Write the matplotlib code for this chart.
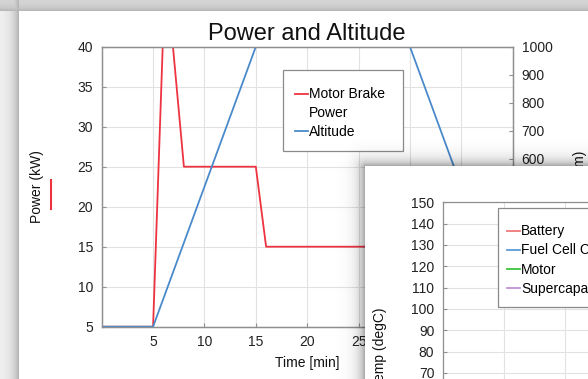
import numpy as np
import matplotlib
matplotlib.use("Agg")
import matplotlib.pyplot as plt
from matplotlib.lines import Line2D
from matplotlib.patches import Rectangle

plt.rcParams['font.family'] = ['Liberation Sans', 'DejaVu Sans']

# ---- data (chart 1: Power and Altitude) ----
power_time = [0, 5, 5.95, 6.9, 8, 15, 16, 40]
power_kw = [5, 5, 40.5, 40.5, 25, 25, 15, 15]
alt_time = [0, 5, 15, 30, 40]
altitude_m = [0, 0, 1000, 1000, 0]
x_ticks = [5, 10, 15, 20, 25, 30, 35]
power_ticks = [5, 10, 15, 20, 25, 30, 35, 40]
alt_ticks = [100, 200, 300, 400, 500, 600, 700, 800, 900, 1000]

# ---- chart 2 (Temperatures) ----
temp_series = ['Battery', 'Fuel Cell Coolant', 'Motor', 'Supercapacitor']
temp_colors = ['#f07878', '#5b9bd5', '#3cc43c', '#c58fd8']
temp_ticks = list(range(0, 151, 10))

W, H = 588, 379
fig = plt.figure(figsize=(W / 100, H / 100), dpi=100)

def fx(px):
    return px / W

def fy(py):
    return 1 - py / H

# ---- background: window 1 frame ----
yy, xx = np.mgrid[0:H, 0:W]
bg = np.ones((H, W))
left_mask = xx < 19
top_mask = yy < 11
dl = 19 - xx
dt = 11 - yy
left_val = 0.96 - 0.27 * np.exp(-(dl - 0.5) / 7.0)
top_val = 0.84 - 0.14 * np.exp(-(dt - 0.5) / 3.5)
bg[left_mask] = left_val[left_mask]
bg[top_mask & ~left_mask] = top_val[top_mask & ~left_mask]
both = top_mask & left_mask
bg[both] = np.minimum(left_val[both], top_val[both])
ax_bg = fig.add_axes([0, 0, 1, 1], zorder=-5)
ax_bg.imshow(np.dstack([bg, bg, bg]), extent=(0, W, H, 0), aspect='auto',
             interpolation='nearest')
ax_bg.set_xlim(0, W)
ax_bg.set_ylim(H, 0)
ax_bg.axis('off')

spine_c = '#8f8f8f'
grid_c = '#e2e2e2'
box_c = '#8a8a8a'

def legend_box(ax, x0, y0, x1, y1):
    r = Rectangle((fx(x0), fy(y1)), fx(x1) - fx(x0), fy(y0) - fy(y1),
                  transform=fig.transFigure, facecolor='white', edgecolor=box_c,
                  lw=0.9, clip_on=False, zorder=4.5)
    ax.add_artist(r)

# ---- chart 1 ----
ax1 = fig.add_axes([fx(101.7), fy(326.7), fx(512.7) - fx(101.7), fy(46.7) - fy(326.7)],
                   zorder=1)
red_line, = ax1.plot(power_time, power_kw, color='#ee3340', lw=1.3)
ax1.set_xlim(0, 40)
ax1.set_ylim(5, 40)
ax1.set_xticks(x_ticks)
ax1.set_yticks(power_ticks)
ax1.grid(True, color=grid_c, lw=0.8)
ax1.set_axisbelow(True)
for s in ax1.spines.values():
    s.set_color(spine_c)
    s.set_linewidth(0.9)
ax1.tick_params(direction='in', length=3, color=spine_c, labelsize=10,
                labelcolor='#222222', pad=6)
ax1.set_title('Power and Altitude', fontsize=17, pad=5, color='#111111')
ax1.set_xlabel('Time [min]', fontsize=10, color='#111111')
ax1.xaxis.set_label_coords(0.5, (326.7 - 363) / 280)
ax1.xaxis.label.set_va('center')
ax1.set_ylabel('Power (kW)', fontsize=10, color='#111111')
ax1.yaxis.set_label_coords((37 - 101.7) / 411, 0.5)
ax1.yaxis.label.set_va('center')

ax1r = ax1.twinx()
blue_line, = ax1r.plot(alt_time, altitude_m, color='#4a8acb', lw=1.3)
ax1r.set_ylim(0, 1000)
ax1r.set_yticks(alt_ticks)
for s in ax1r.spines.values():
    s.set_color(spine_c)
    s.set_linewidth(0.9)
ax1r.tick_params(direction='in', length=3, color=spine_c, labelsize=10,
                 labelcolor='#222222', pad=6.5)
ax1r.set_ylabel('Altitude (m)', fontsize=10, color='#111111')
ax1r.yaxis.set_label_coords((580 - 101.7) / 411, 0.5)
ax1r.yaxis.label.set_va('center')

legend_box(ax1r, 283.3, 70, 402.7, 150.7)
blank = Line2D([], [], color='none')
leg1 = ax1r.legend([red_line, blank, blue_line], ['Motor Brake', 'Power', 'Altitude'],
                   loc='upper left', bbox_to_anchor=(fx(295), fy(87.5)),
                   bbox_transform=fig.transFigure, borderaxespad=0, borderpad=0,
                   fontsize=10, handlelength=0.93, handletextpad=0.08,
                   labelspacing=0.33, frameon=False)
leg1.set_zorder(5)

# red indicator next to the y label
fig.add_artist(Line2D([fx(51), fx(51)], [fy(180), fy(209)], color='#ee3340', lw=1.5,
                      zorder=2))

# ---- overlay: window 2 with drop shadow ----
x0, y0 = 365, 166
dx = np.clip(x0 - xx, 0, None).astype(float)
dy = np.clip(y0 - yy, 0, None).astype(float)
d = np.sqrt(dx ** 2 + dy ** 2)
inside = (xx >= x0) & (yy >= y0)
alpha = 0.38 * np.exp(-d / 6.5)
rgba = np.zeros((H, W, 4))
rgba[..., 3] = alpha
rgba[inside] = [1, 1, 1, 1]
ax_ov = fig.add_axes([0, 0, 1, 1], zorder=5)
ax_ov.imshow(rgba, extent=(0, W, H, 0), aspect='auto', interpolation='bilinear')
ax_ov.set_xlim(0, W)
ax_ov.set_ylim(H, 0)
ax_ov.axis('off')
ax_ov.patch.set_alpha(0)

# ---- chart 2 ----
px_per_unit = 2.133
ax2_bottom_px = 202.3 + 150 * px_per_unit
ax2 = fig.add_axes([fx(443.3), fy(ax2_bottom_px), 303.5 / W, fy(202.3) - fy(ax2_bottom_px)],
                   zorder=6)
ax2.set_xlim(0, 5)
ax2.set_ylim(0, 150)
ax2.set_yticks(temp_ticks)
ax2.set_xticks([0, 1, 2, 3, 4, 5])
ax2.grid(True, color=grid_c, lw=0.8)
ax2.set_axisbelow(True)
for s in ax2.spines.values():
    s.set_color(spine_c)
    s.set_linewidth(0.9)
ax2.tick_params(direction='in', length=3, color=spine_c, labelsize=10,
                labelcolor='#222222', pad=6.5)
ax2.set_ylabel('Temp (degC)', fontsize=10, color='#111111')
ax2.yaxis.set_label_coords((380 - 443.3) / 303.5,
                           (ax2_bottom_px - 348) / (ax2_bottom_px - 202.3))
ax2.yaxis.label.set_va('center')

legend_box(ax2, 498.3, 207.7, 640, 306.7)
handles2 = [Line2D([], [], color=c, lw=1.3) for c in temp_colors]
leg2 = ax2.legend(handles2, temp_series, loc='upper left',
                  bbox_to_anchor=(fx(507.3), fy(224.5)), bbox_transform=fig.transFigure,
                  borderaxespad=0, borderpad=0, fontsize=10, handlelength=0.93,
                  handletextpad=0.08, labelspacing=0.36, frameon=False)
leg2.set_zorder(5)

fig.savefig('out.png', dpi=100)
